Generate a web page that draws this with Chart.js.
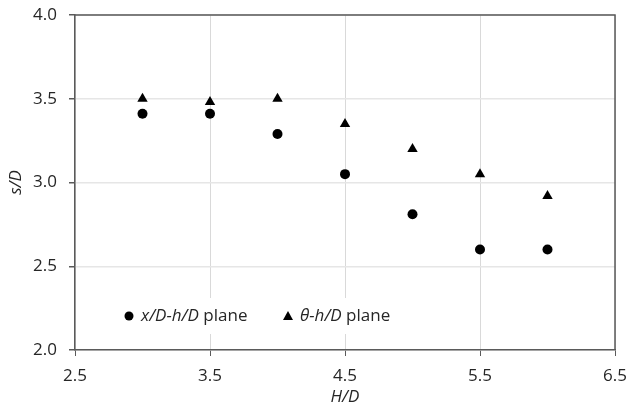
<!DOCTYPE html>
<html lang="en">
<head>
    <meta charset="UTF-8">
    <title>s/D vs H/D</title>
    <script src="https://cdn.jsdelivr.net/npm/chart.js"></script>
    <style>
        body { margin: 0; background: #ffffff; }
        .chart-box { width: 629px; height: 418px; }
    </style>
</head>
<body>
    <div class="chart-box">
        <canvas id="sdChart" width="629" height="418"></canvas>
    </div>

    <script>
        // data
        var hd = [3.0, 3.5, 4.0, 4.5, 5.0, 5.5, 6.0];
        var sdXPlane = [3.41, 3.41, 3.29, 3.05, 2.81, 2.60, 2.60];
        var sdThetaPlane = [3.50, 3.48, 3.50, 3.35, 3.20, 3.05, 2.92];
        var xTicks = [2.5, 3.5, 4.5, 5.5, 6.5];
        var yTicks = [2.0, 2.5, 3.0, 3.5, 4.0];

        var textColor = '#262626';
        var axisColor = '#5a5a5a';
        var fontFamily = '"Open Sans", sans-serif';
        var fontSize = 17;

        function toPoints(xs, ys) {
            return xs.map(function (x, i) { return { x: x, y: ys[i] }; });
        }

        // no extra label padding, so the plot area sits where the layout padding says
        function noLabelPadding(s) {
            s.paddingLeft = 0;
            s.paddingRight = 0;
            s.paddingTop = 0;
            s.paddingBottom = 0;
        }

        // frame on top/right + legend with mixed italic text
        var framePlugin = {
            id: 'frameAndLegend',
            beforeDatasetsDraw: function (chart) {
                var ctx = chart.ctx;
                var a = chart.chartArea;
                ctx.save();
                // white legend box covering the grid
                var lx = a.left + 43;
                var ly = a.bottom - 34;
                ctx.fillStyle = '#ffffff';
                ctx.fillRect(lx, ly - 18, 282, 36);

                ctx.fillStyle = '#000000';
                ctx.beginPath();
                ctx.arc(lx + 11, ly, 4.5, 0, Math.PI * 2);
                ctx.fill();

                var tx = lx + 170;
                ctx.beginPath();
                ctx.moveTo(tx, ly - 5);
                ctx.lineTo(tx + 5, ly + 4);
                ctx.lineTo(tx - 5, ly + 4);
                ctx.closePath();
                ctx.fill();

                ctx.fillStyle = textColor;
                ctx.textBaseline = 'middle';
                ctx.font = 'italic ' + fontSize + 'px ' + fontFamily;
                var x1 = lx + 23;
                ctx.fillText('x/D-h/D', x1, ly);
                x1 += ctx.measureText('x/D-h/D').width;
                ctx.font = fontSize + 'px ' + fontFamily;
                ctx.fillText(' plane', x1, ly);

                ctx.font = 'italic ' + fontSize + 'px ' + fontFamily;
                var x2 = tx + 12;
                ctx.fillText('\u03b8-h/D', x2, ly);
                x2 += ctx.measureText('\u03b8-h/D').width;
                ctx.font = fontSize + 'px ' + fontFamily;
                ctx.fillText(' plane', x2, ly);

                // top and right frame lines
                ctx.strokeStyle = axisColor;
                ctx.lineWidth = 1.5;
                ctx.beginPath();
                ctx.moveTo(a.left, a.top);
                ctx.lineTo(a.right, a.top);
                ctx.lineTo(a.right, a.bottom);
                ctx.stroke();
                ctx.restore();
            }
        };

        var ctx = document.getElementById('sdChart').getContext('2d');
        var sdChart = new Chart(ctx, {
            type: 'scatter',
            data: {
                datasets: [{
                    label: 'x/D-h/D plane',
                    data: toPoints(hd, sdXPlane),
                    pointStyle: 'circle',
                    pointRadius: 5,
                    backgroundColor: '#000000',
                    borderColor: '#000000',
                    borderWidth: 0
                }, {
                    label: '\u03b8-h/D plane',
                    data: toPoints(hd, sdThetaPlane),
                    pointStyle: 'triangle',
                    pointRadius: 6,
                    backgroundColor: '#000000',
                    borderColor: '#000000',
                    borderWidth: 0
                }]
            },
            options: {
                responsive: false,
                animation: false,
                layout: { padding: { top: 15, right: 14, left: 0, bottom: 0 } },
                plugins: {
                    legend: { display: false },
                    tooltip: { enabled: false }
                },
                scales: {
                    x: {
                        type: 'linear',
                        min: 2.5,
                        max: 6.5,
                        afterBuildTicks: function (s) { s.ticks = xTicks.map(function (v) { return { value: v }; }); },
                        afterFit: function (s) { s.height = 68; noLabelPadding(s); },
                        grid: { color: '#d9d9d9', tickColor: axisColor, tickLength: 6, lineWidth: 1 },
                        border: { color: axisColor, width: 1.5 },
                        ticks: {
                            color: textColor,
                            padding: 10,
                            maxRotation: 0,
                            font: { family: fontFamily, size: fontSize },
                            callback: function (v) { return v.toFixed(1); }
                        },
                        title: {
                            display: true,
                            text: 'H/D',
                            color: textColor,
                            padding: { top: 2, bottom: 11 },
                            font: { family: fontFamily, size: fontSize, style: 'italic' }
                        }
                    },
                    y: {
                        min: 2,
                        max: 4,
                        afterBuildTicks: function (s) { s.ticks = yTicks.map(function (v) { return { value: v }; }); },
                        afterFit: function (s) { s.width = 75; noLabelPadding(s); },
                        grid: { color: '#e6e6e6', tickColor: axisColor, tickLength: 6, lineWidth: 1.5 },
                        border: { color: axisColor, width: 1.5 },
                        ticks: {
                            color: textColor,
                            padding: 12,
                            font: { family: fontFamily, size: fontSize },
                            callback: function (v) { return v.toFixed(1); }
                        },
                        title: {
                            display: true,
                            text: 's/D',
                            color: textColor,
                            padding: { top: 6, bottom: 0 },
                            font: { family: fontFamily, size: fontSize, style: 'italic' }
                        }
                    }
                }
            },
            plugins: [framePlugin]
        });
    </script>
</body>
</html>
